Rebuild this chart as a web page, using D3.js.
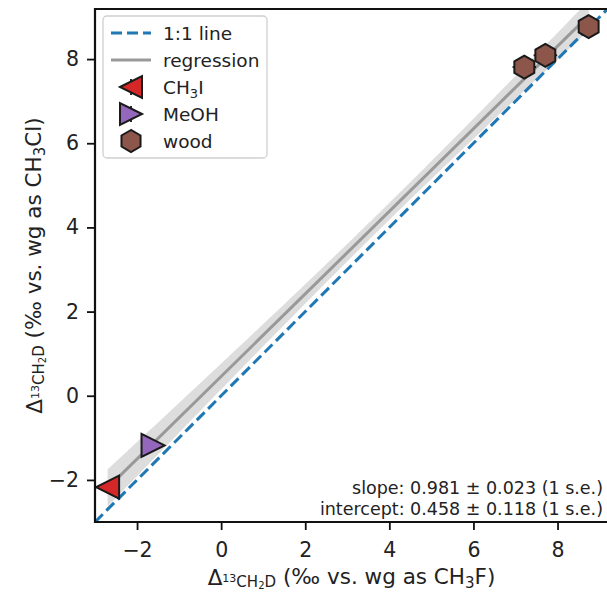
<!DOCTYPE html>
<html>
<head>
<meta charset="utf-8">
<script src="https://cdn.jsdelivr.net/npm/d3@7"></script>
<style>
  body { margin: 0; background: #fff; }
  text { font-family: "DejaVu Sans", sans-serif; }
</style>
</head>
<body>
<div id="chart"></div>
<script>
'use strict';

// data
var groups = ['CH3I', 'MeOH', 'wood', 'wood', 'wood'];
var xVals = [-2.70, -1.62, 7.21, 7.71, 8.74];
var yVals = [-2.17, -1.18, 7.81, 8.09, 8.77];
var xErr = [0.10, 0.10, 0.28, 0.28, 0.10];
var yErr = [0.12, 0.12, 0.10, 0.10, 0.10];
var xTicks = [-2, 0, 2, 4, 6, 8];
var yTicks = [-2, 0, 2, 4, 6, 8];
var fitSlope = 0.981, fitSlopeSe = 0.023;
var fitIntercept = 0.458, fitInterceptSe = 0.118;
var legendItems = ['1:1 line', 'regression', 'CH3I', 'MeOH', 'wood'];

var W = 607, H = 592;
var margin = {left: 95, top: 9, right: -1, bottom: 70};
var width = W - margin.left - margin.right;
var height = H - margin.top - margin.bottom;

var colors = {CH3I: '#d62728', MeOH: '#9467bd', wood: '#8c564b'};

var svg = d3.select('#chart').append('svg')
    .attr('width', W)
    .attr('height', H);

var x = d3.scaleLinear().domain([-3, 9.2]).range([0, width]);
var y = d3.scaleLinear().domain([-3, 9.19]).range([height, 0]);

svg.append('defs').append('clipPath').attr('id', 'clip')
    .append('rect').attr('width', width).attr('height', height);

var g = svg.append('g').attr('transform', 'translate(' + margin.left + ',' + margin.top + ')');
var plot = g.append('g').attr('clip-path', 'url(#clip)');

// marker shapes
function markerPath(kind, r) {
    var pts;
    if (kind === 'CH3I') {
        pts = [[-r, 0], [r, -r], [r, r]];
    } else if (kind === 'MeOH') {
        pts = [[r, 0], [-r, -r], [-r, r]];
    } else {
        pts = d3.range(6).map(function(i) {
            var a = Math.PI / 2 + i * Math.PI / 3;
            return [r * Math.cos(a), -r * Math.sin(a)];
        });
    }
    return 'M' + pts.map(function(p) { return p[0] + ',' + p[1]; }).join('L') + 'Z';
}

// regression band (from the stated 1 s.e. values)
var meanX = d3.mean(xVals);
var cov = -meanX * fitSlopeSe * fitSlopeSe;
var xMin = d3.min(xVals), xMax = d3.max(xVals);
var bandX = d3.range(0, 101).map(function(i) { return xMin + (xMax - xMin) * i / 100; });
function halfWidth(v) {
    return 2.6 * Math.sqrt(fitInterceptSe * fitInterceptSe + 2 * v * cov + v * v * fitSlopeSe * fitSlopeSe);
}
plot.append('path')
    .datum(bandX)
    .attr('d', d3.area()
        .x(function(d) { return x(d); })
        .y0(function(d) { return y(fitSlope * d + fitIntercept - halfWidth(d)); })
        .y1(function(d) { return y(fitSlope * d + fitIntercept + halfWidth(d)); }))
    .attr('fill', '#dddddd');

// 1:1 line
plot.append('line')
    .attr('x1', x(-3)).attr('y1', y(-3))
    .attr('x2', x(9.2)).attr('y2', y(9.2))
    .attr('stroke', '#1f77b4')
    .attr('stroke-width', 3)
    .attr('stroke-dasharray', '11,5');

// regression line
plot.append('line')
    .attr('x1', x(xMin)).attr('y1', y(fitSlope * xMin + fitIntercept))
    .attr('x2', x(xMax)).attr('y2', y(fitSlope * xMax + fitIntercept))
    .attr('stroke', '#999999')
    .attr('stroke-width', 3);

// points with error bars
var pts = groups.map(function(k, i) {
    return {kind: k, x: xVals[i], y: yVals[i], xe: xErr[i], ye: yErr[i]};
});
var pg = plot.selectAll('.pt').data(pts).enter().append('g').attr('class', 'pt');
pg.append('line')
    .attr('x1', function(d) { return x(d.x - d.xe); })
    .attr('x2', function(d) { return x(d.x + d.xe); })
    .attr('y1', function(d) { return y(d.y); })
    .attr('y2', function(d) { return y(d.y); })
    .attr('stroke', '#111').attr('stroke-width', 1.8);
pg.append('line')
    .attr('x1', function(d) { return x(d.x); })
    .attr('x2', function(d) { return x(d.x); })
    .attr('y1', function(d) { return y(d.y - d.ye); })
    .attr('y2', function(d) { return y(d.y + d.ye); })
    .attr('stroke', '#111').attr('stroke-width', 1.8);
pg.append('path')
    .attr('transform', function(d) { return 'translate(' + x(d.x) + ',' + y(d.y) + ')'; })
    .attr('d', function(d) { return markerPath(d.kind, d.kind === 'wood' ? 11.5 : 11.5); })
    .attr('fill', function(d) { return colors[d.kind]; })
    .attr('stroke', '#1a1a1a')
    .attr('stroke-width', 2)
    .attr('stroke-linejoin', 'miter');

// axes
var xAxis = g.append('g')
    .attr('transform', 'translate(0,' + height + ')')
    .call(d3.axisBottom(x).tickValues(xTicks).tickSize(8).tickPadding(12)
        .tickFormat(function(d) { return d < 0 ? '\u2212' + Math.abs(d) : d; }));
var yAxis = g.append('g')
    .call(d3.axisLeft(y).tickValues(yTicks).tickSize(8).tickPadding(8)
        .tickFormat(function(d) { return d < 0 ? '\u2212' + Math.abs(d) : d; }));
[xAxis, yAxis].forEach(function(a) {
    a.select('.domain').remove();
    a.selectAll('.tick line').attr('stroke', '#111').attr('stroke-width', 1.8);
    a.selectAll('.tick text').attr('fill', '#222').style('font-size', '20.5px')
        .style('font-family', '"DejaVu Sans", sans-serif');
});

// spines (left and bottom, top; right is off-canvas)
g.append('path')
    .attr('d', 'M' + width + ',0H0V' + height + 'H' + width)
    .attr('fill', 'none')
    .attr('stroke', '#111')
    .attr('stroke-width', 2.2);

// axis labels
function deltaLabel(sel, tail, tailSub, tailEnd) {
    sel.append('tspan').text('\u0394');
    sel.append('tspan').attr('font-size', '11px').attr('dy', -3).text('13');
    sel.append('tspan').attr('font-size', '15px').attr('dy', 5).text('CH');
    sel.append('tspan').attr('font-size', '10px').attr('dy', 2).text('2');
    sel.append('tspan').attr('font-size', '15px').attr('dy', -2).text('D');
    sel.append('tspan').attr('dy', -3).text(tail);
    sel.append('tspan').attr('font-size', '15px').attr('dy', 4).text(tailSub);
    sel.append('tspan').attr('dy', -4).text(tailEnd);
}
var xl = svg.append('text')
    .attr('x', margin.left + width / 2)
    .attr('y', 585)
    .attr('text-anchor', 'middle')
    .style('font-size', '21.5px')
    .attr('fill', '#222');
deltaLabel(xl, ' (\u2030 vs. wg as CH', '3', 'F)');

var yl = svg.append('text')
    .attr('transform', 'translate(42,' + (margin.top + height / 2) + ') rotate(-90)')
    .attr('text-anchor', 'middle')
    .style('font-size', '21.5px')
    .attr('fill', '#222');
deltaLabel(yl, ' (\u2030 vs. wg as CH', '3', 'Cl)');

// fit annotation
var ann = [
    'slope: ' + fitSlope.toFixed(3) + ' \u00b1 ' + fitSlopeSe.toFixed(3) + ' (1 s.e.)',
    'intercept: ' + fitIntercept.toFixed(3) + ' \u00b1 ' + fitInterceptSe.toFixed(3) + ' (1 s.e.)'
];
svg.selectAll('.ann').data(ann).enter().append('text')
    .attr('class', 'ann')
    .attr('x', 603)
    .attr('y', function(d, i) { return 494 + i * 21; })
    .attr('text-anchor', 'end')
    .style('font-size', '17.5px')
    .attr('fill', '#222')
    .text(function(d) { return d; });

// legend
var lg = svg.append('g').attr('transform', 'translate(103,16)');
lg.append('rect')
    .attr('width', 164).attr('height', 142)
    .attr('rx', 4)
    .attr('fill', '#fff').attr('fill-opacity', 0.85)
    .attr('stroke', '#d0d0d0').attr('stroke-width', 1.3);
var row = d3.scaleLinear().domain([0, legendItems.length - 1]).range([17, 125]);
legendItems.forEach(function(name, i) {
    var yy = row(i);
    var e = lg.append('g').attr('transform', 'translate(0,' + yy + ')');
    if (i === 0) {
        e.append('line').attr('x1', 8).attr('x2', 48)
            .attr('stroke', '#1f77b4').attr('stroke-width', 3).attr('stroke-dasharray', '11,5');
    } else if (i === 1) {
        e.append('line').attr('x1', 8).attr('x2', 48)
            .attr('stroke', '#999999').attr('stroke-width', 3);
    } else {
        e.append('line').attr('x1', 28).attr('x2', 28).attr('y1', -8).attr('y2', 8)
            .attr('stroke', '#111').attr('stroke-width', 1.8);
        e.append('path')
            .attr('transform', 'translate(28,0)')
            .attr('d', markerPath(name, 11))
            .attr('fill', colors[name])
            .attr('stroke', '#1a1a1a').attr('stroke-width', 2);
    }
    var t = e.append('text').attr('x', 60).attr('y', 6.5).style('font-size', '18.5px').attr('fill', '#222');
    if (name === 'CH3I') {
        t.append('tspan').text('CH');
        t.append('tspan').attr('font-size', '13px').attr('dy', 4).text('3');
        t.append('tspan').attr('dy', -4).text('I');
    } else {
        t.text(name);
    }
});
</script>
</body>
</html>
